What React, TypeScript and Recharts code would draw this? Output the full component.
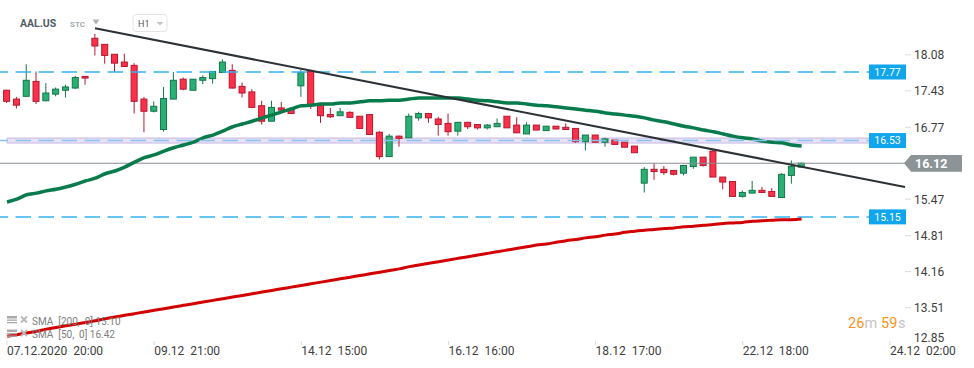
import { Bar, ComposedChart, Line, ReferenceArea, ReferenceLine, XAxis, YAxis } from 'recharts'

// hourly candles, AAL.US
const opens = [
  17.44, 17.28, 17.33, 17.6, 17.25, 17.37, 17.44, 17.48, 17.69, 18.38,
  18.27, 18.09, 17.95, 17.89, 17.28, 17.06, 16.73, 17.28, 17.64, 17.44,
  17.62, 17.65, 17.76, 17.8, 17.51, 17.41, 17.16, 16.88, 17.12, 17.1,
  17.52, 17.79, 17.16, 17.0, 16.98, 17.04, 16.97, 17.0, 16.68, 16.24,
  16.61, 16.58, 16.94, 17.02, 16.92, 16.84, 16.7, 16.86, 16.82, 16.76,
  16.78, 16.97, 16.81, 16.65, 16.81, 16.71, 16.79, 16.77, 16.75, 16.51,
  16.63, 16.5, 16.54, 16.5, 16.43, 15.76, 16.01, 16.01, 15.99, 15.94,
  16.06, 16.23, 16.34, 15.87, 15.79, 15.52, 15.58, 15.63, 15.61, 15.5,
  15.9, 16.05,
]
const highs = [
  17.45, 17.32, 17.91, 17.78, 17.57, 17.49, 17.54, 17.7, 17.69, 18.46,
  18.27, 18.09, 18.1, 17.93, 17.32, 17.24, 17.5, 17.77, 17.67, 17.64,
  17.71, 17.78, 18.0, 17.91, 17.58, 17.46, 17.25, 17.25, 17.23, 17.14,
  17.81, 17.81, 17.16, 17.12, 17.12, 17.06, 16.97, 17.0, 16.7, 16.65,
  16.62, 17.02, 17.05, 17.02, 16.96, 17.02, 16.86, 16.86, 16.82, 16.83,
  16.93, 16.97, 16.95, 16.86, 16.81, 16.79, 16.79, 16.84, 16.75, 16.63,
  16.63, 16.58, 16.54, 16.5, 16.43, 16.05, 16.12, 16.07, 15.99, 16.08,
  16.23, 16.23, 16.37, 15.87, 15.79, 15.63, 15.8, 15.69, 15.67, 15.94,
  16.17, 16.13,
]
const lows = [
  17.21, 17.11, 17.33, 17.19, 17.24, 17.33, 17.31, 17.46, 17.54, 18.07,
  17.92, 17.77, 17.87, 17.02, 16.68, 17.04, 16.69, 17.28, 17.44, 17.44,
  17.55, 17.56, 17.76, 17.47, 17.31, 17.13, 16.82, 16.88, 17.03, 17.02,
  17.32, 17.1, 16.85, 16.94, 16.98, 16.95, 16.75, 16.64, 16.19, 16.24,
  16.42, 16.58, 16.89, 16.85, 16.62, 16.62, 16.62, 16.74, 16.73, 16.73,
  16.78, 16.76, 16.67, 16.65, 16.72, 16.71, 16.73, 16.73, 16.49, 16.35,
  16.5, 16.42, 16.46, 16.41, 16.31, 15.59, 15.82, 15.91, 15.9, 15.9,
  16.02, 16.06, 15.87, 15.65, 15.52, 15.5, 15.58, 15.59, 15.52, 15.5,
  15.75, 16.05,
]
const closes = [
  17.24, 17.17, 17.62, 17.24, 17.39, 17.46, 17.5, 17.67, 17.66, 18.24,
  18.07, 17.93, 17.87, 17.24, 17.06, 17.15, 17.29, 17.62, 17.46, 17.64,
  17.67, 17.78, 17.95, 17.48, 17.39, 17.13, 16.88, 17.13, 17.08, 17.02,
  17.76, 17.16, 16.98, 16.96, 17.05, 16.95, 16.75, 16.64, 16.24, 16.61,
  16.57, 16.97, 17.02, 16.94, 16.82, 16.69, 16.86, 16.78, 16.76, 16.81,
  16.84, 16.76, 16.67, 16.81, 16.72, 16.79, 16.74, 16.73, 16.51, 16.63,
  16.5, 16.56, 16.46, 16.41, 16.31, 16.01, 15.97, 15.95, 15.92, 16.08,
  16.23, 16.08, 15.87, 15.78, 15.52, 15.59, 15.63, 15.59, 15.52, 15.92,
  16.06, 16.12,
]
const sma50 = [
  15.42, 15.47, 15.55, 15.58, 15.62, 15.65, 15.69, 15.74, 15.8, 15.85,
  15.93, 15.98, 16.05, 16.14, 16.22, 16.27, 16.34, 16.4, 16.45, 16.5,
  16.58, 16.63, 16.7, 16.78, 16.83, 16.88, 16.94, 16.99, 17.05, 17.1,
  17.16, 17.17, 17.19, 17.19, 17.21, 17.21, 17.23, 17.25, 17.25, 17.26,
  17.26, 17.28, 17.3, 17.3, 17.3, 17.3, 17.3, 17.28, 17.26, 17.25,
  17.23, 17.21, 17.21, 17.19, 17.17, 17.16, 17.14, 17.12, 17.1, 17.08,
  17.06, 17.03, 17.01, 16.99, 16.97, 16.94, 16.9, 16.87, 16.83, 16.79,
  16.76, 16.72, 16.69, 16.65, 16.61, 16.58, 16.56, 16.52, 16.5, 16.49,
  16.45, 16.43,
]
const sma200 = [
  12.99, 13.02, 13.05, 13.08, 13.12, 13.15, 13.18, 13.21, 13.24, 13.27,
  13.31, 13.34, 13.37, 13.4, 13.43, 13.46, 13.49, 13.52, 13.55, 13.58,
  13.61, 13.64, 13.67, 13.7, 13.73, 13.76, 13.79, 13.82, 13.85, 13.88,
  13.91, 13.94, 13.97, 14.0, 14.03, 14.06, 14.09, 14.12, 14.15, 14.18,
  14.21, 14.25, 14.28, 14.31, 14.34, 14.37, 14.4, 14.43, 14.46, 14.49,
  14.52, 14.55, 14.58, 14.61, 14.64, 14.66, 14.69, 14.72, 14.74, 14.77,
  14.79, 14.82, 14.84, 14.87, 14.89, 14.91, 14.92, 14.94, 14.95, 14.97,
  14.98, 15.0, 15.01, 15.03, 15.04, 15.05, 15.07, 15.08, 15.09, 15.1,
  15.1, 15.11,
]

const timeTicks = [0, 15, 30, 45, 60, 75, 90]
const timeLabels = ['07.12.2020  20:00', '09.12  21:00', '14.12  15:00', '16.12  16:00', '18.12  17:00', '22.12  18:00', '24.12  02:00']
const priceTicks = [18.08, 17.43, 16.77, 15.47, 14.81, 14.16, 13.51, 12.85] // 16.12 sits under the price tag

const resistance = 17.77
const zone = 16.53
const zoneLow = 16.485
const zoneHigh = 16.575
const support = 15.15
const lastPrice = 16.12
const trendFrom = { i: 8.97, p: 18.56 }
const trendTo = { i: 91.54, p: 15.69 }

const data = opens.map((o, i) => ({
  i,
  o,
  h: highs[i],
  l: lows[i],
  c: closes[i],
  range: [lows[i], highs[i]],
  sma50: sma50[i],
  sma200: sma200[i],
}))

const FONT = 'Roboto, sans-serif'

function Candle(props: any) {
  const { x, y, width, height, payload } = props
  if (!payload) return null
  const top = Math.min(y, y + height)
  const h = Math.abs(height)
  const k = h / (payload.h - payload.l || 1)
  const yOf = (v: number) => top + (payload.h - v) * k
  const up = payload.c >= payload.o
  const cx = x + width / 2
  const fill = up ? '#2bb074' : '#fb3049'
  const edge = up ? '#13774b' : '#b7172f'
  const bt = yOf(Math.max(payload.o, payload.c))
  const bb = yOf(Math.min(payload.o, payload.c))
  return (
    <g>
      <line x1={cx} x2={cx} y1={top} y2={top + h} stroke={edge} strokeWidth={1} />
      <rect x={cx - 3} y={bt} width={6} height={Math.max(bb - bt, 1)} fill={fill} stroke={edge} strokeWidth={1} />
    </g>
  )
}

function TimeTick({ x, y, payload }: any) {
  const idx = timeTicks.indexOf(payload.value)
  return (
    <g>
      <line x1={x} x2={x} y1={y - 4} y2={y} stroke="#d9d9d9" />
      <text x={x} y={y + 10} fontSize={12} fill="#3d3d3d" fontFamily={FONT} xmlSpace="preserve" style={{ whiteSpace: 'pre' }}>
        {timeLabels[idx]}
      </text>
    </g>
  )
}

function PriceTick({ x, y, payload }: any) {
  const ty = Math.min(y, 337)
  return (
    <g>
      {ty === y && <line x1={x} x2={x + 6} y1={y} y2={y} stroke="#dcdcdc" />}
      <text x={x + 9} y={ty + 4.5} fontSize={12} fill="#3d3d3d" fontFamily={FONT}>
        {payload.value.toFixed(2)}
      </text>
    </g>
  )
}

function BlueTag({ viewBox, text }: any) {
  if (!viewBox) return null
  const right = viewBox.x + viewBox.width
  const y = viewBox.y
  return (
    <g>
      <rect x={right - 36} y={y - 7.5} width={37} height={15} fill="#0fa6ee" />
      <text x={right - 17.5} y={y + 3.8} textAnchor="middle" fontSize={10.5} fill="#fff" fontFamily={FONT}>
        {text}
      </text>
    </g>
  )
}

function GrayTag({ viewBox, text }: any) {
  if (!viewBox) return null
  const right = viewBox.x + viewBox.width
  const y = viewBox.y
  const pts = `${right - 1},${y} ${right + 6},${y - 8.3} ${right + 57},${y - 8.3} ${right + 57},${y + 8.5} ${right + 6},${y + 8.5}`
  return (
    <g>
      <polygon points={pts} fill="#8c9497" />
      <text x={right + 10} y={y + 4.5} fontSize={12.5} fontWeight={700} fill="#fff" fontFamily={FONT}>
        {text}
      </text>
    </g>
  )
}

export default function App() {
  return (
    <div style={{ position: 'absolute', left: 0, top: 0, width: 974, height: 368, background: '#fff', fontFamily: FONT }}>
      <ComposedChart width={974} height={368} data={data} margin={{ top: 0, right: 0, left: 0, bottom: 0 }}>
        <XAxis
          type="number"
          dataKey="i"
          domain={[-0.714, 91.54]}
          ticks={timeTicks}
          interval={0}
          height={23}
          axisLine={false}
          tickLine={false}
          tickSize={0}
          tickMargin={0}
          tick={<TimeTick />}
          allowDataOverflow
        />
        <YAxis
          orientation="right"
          domain={[12.833, 19.072]}
          ticks={priceTicks}
          interval={0}
          width={69}
          axisLine={false}
          tickLine={false}
          tickSize={0}
          tickMargin={0}
          tick={<PriceTick />}
          allowDataOverflow
        />
        <ReferenceLine y={resistance} stroke="#35b3ee" strokeWidth={1.5} strokeDasharray="15.5 7.5" label={<BlueTag text="17.77" />} />
        <ReferenceLine y={support} stroke="#35b3ee" strokeWidth={1.5} strokeDasharray="15.5 7.5" label={<BlueTag text="15.15" />} />
        <ReferenceLine y={lastPrice} stroke="#858e92" strokeWidth={1} label={<GrayTag text="16.12" />} />
        <Bar dataKey="range" barSize={7} isAnimationActive={false} activeBar={false} shape={(p: any) => <Candle {...p} />} />
        <Line dataKey="sma200" stroke="#d20000" strokeWidth={3} dot={false} activeDot={false} type="monotone" isAnimationActive={false} />
        <Line dataKey="sma50" stroke="#077b4b" strokeWidth={3.5} dot={false} activeDot={false} type="monotone" isAnimationActive={false} />
        <ReferenceArea x1={0} y1={zoneLow} y2={zoneHigh} fill="rgb(178,158,215)" fillOpacity={0.3} stroke="#c6b6e6" strokeWidth={1} ifOverflow="visible" />
        <ReferenceLine y={zone} stroke="#86c3ef" strokeWidth={1.5} strokeDasharray="15.5 7.5" label={<BlueTag text="16.53" />} />
        <ReferenceLine
          segment={[{ x: trendFrom.i, y: trendFrom.p }, { x: trendTo.i, y: trendTo.p }]}
          stroke="#2b3135"
          strokeWidth={2}
          ifOverflow="visible"
        />
      </ComposedChart>

      <svg width={974} height={368} style={{ position: 'absolute', left: 0, top: 0, pointerEvents: 'none' }}>
        <text x={20} y={26.7} fontSize={10.5} fontWeight={700} fill="#535d67" fontFamily={FONT}>AAL.US</text>
        <text x={70} y={26.7} fontSize={8} fontWeight={700} fill="#a3adb5" fontFamily={FONT}>STC</text>
        <polygon points="92.5,19.5 99.5,19.5 96,24.5" fill="#b3b3b3" />
        <rect x={133} y={14.5} width={34} height={17} rx={3} fill="#fff" stroke="#e4e4e4" />
        <text x={138} y={26.7} fontSize={9} fill="#5a5a5a" fontFamily={FONT}>H1</text>
        <polygon points="156.5,22 163.5,22 160,25.5" fill="#c4c4c4" />

        <g fill="#ababab">
          <rect x={7} y={316} width={10} height={2.5} />
          <rect x={7} y={319.5} width={10} height={1.3} />
          <rect x={7} y={322} width={10} height={1.3} />
          <rect x={7} y={329.5} width={10} height={2.5} />
          <rect x={7} y={333} width={10} height={1.3} />
          <rect x={7} y={335.5} width={10} height={1.3} />
        </g>
        <g stroke="#b8b8b8" strokeWidth={1.8}>
          <line x1={21} y1={316.5} x2={27} y2={322.5} />
          <line x1={27} y1={316.5} x2={21} y2={322.5} />
          <line x1={21} y1={330} x2={27} y2={336} />
          <line x1={27} y1={330} x2={21} y2={336} />
        </g>
        <text x={32} y={325} fontSize={10} fill="#7d7d7d" fontFamily={FONT} xmlSpace="preserve" style={{ whiteSpace: 'pre' }}>SMA  [200,  0] 15.10</text>
        <text x={32} y={338.3} fontSize={10} fill="#7d7d7d" fontFamily={FONT} xmlSpace="preserve" style={{ whiteSpace: 'pre' }}>SMA  [50,  0] 16.42</text>

        <text y={328.3} fontSize={14.5} fontFamily={FONT}>
          <tspan x={848} fill="#f7931e">26</tspan>
          <tspan x={864.5} fill="#c4c4c4">m</tspan>
          <tspan x={881} fill="#f7931e">59</tspan>
          <tspan x={898} fill="#c4c4c4">s</tspan>
        </text>
      </svg>
    </div>
  )
}
